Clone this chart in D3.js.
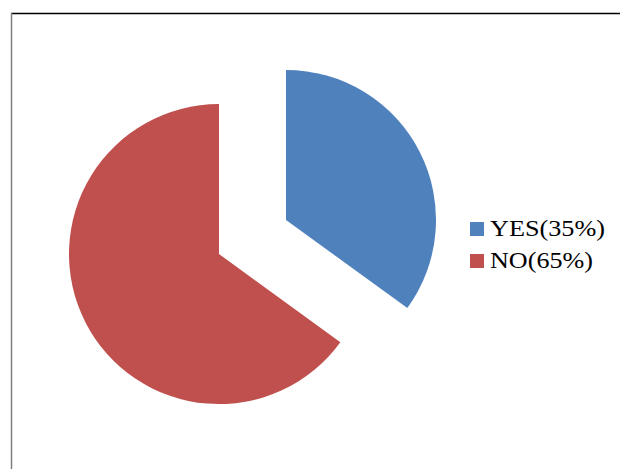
<!DOCTYPE html>
<html>
<head>
<meta charset="utf-8">
<script src="https://cdn.jsdelivr.net/npm/d3@7"></script>
<style>
  html, body { margin: 0; padding: 0; background: #fff; }
  svg { display: block; }
</style>
</head>
<body>
<svg id="chart" width="620" height="469"></svg>
<script>
// Survey answers and their shares
const categories = ["YES", "NO"];
const values = [35, 65];
const colors = ["#4F81BD", "#C0504D"];
const legendLabels = ["YES(35%)", "NO(65%)"];

const svg = d3.select("#chart");
const W = 620, H = 469;

// Chart frame (top and left edges visible)
svg.append("line").attr("x1", 11).attr("y1", 13.5).attr("x2", W).attr("y2", 13.5)
  .attr("stroke", "#000").attr("stroke-width", 1.5);
svg.append("line").attr("x1", 11.5).attr("y1", 13).attr("x2", 11.5).attr("y2", H)
  .attr("stroke", "#7f7f7f").attr("stroke-width", 1.5);

const cx = 252.5, cy = 237, radius = 150, explode = 37.6;

const pie = d3.pie().sort(null).value(d => d.value);
const arc = d3.arc().innerRadius(0).outerRadius(radius);
const data = pie(categories.map((c, i) => ({ cat: c, value: values[i], color: colors[i] })));

const g = svg.append("g").attr("transform", `translate(${cx},${cy})`);
g.selectAll("path")
  .data(data)
  .join("path")
  .attr("d", arc)
  .attr("fill", d => d.data.color)
  .attr("transform", d => {
    const mid = (d.startAngle + d.endAngle) / 2;
    return `translate(${Math.sin(mid) * explode},${-Math.cos(mid) * explode})`;
  });

// Legend
const legend = svg.append("g");
const legendX = 470, legendY = 222, rowGap = 32;
const legendWidths = [115, 103];
categories.forEach((c, i) => {
  const y = legendY + i * rowGap;
  legend.append("rect").attr("x", legendX).attr("y", y)
    .attr("width", 14).attr("height", 14).attr("fill", colors[i]);
  legend.append("text").attr("x", 490).attr("y", y + 13.5)
    .attr("font-family", "'Liberation Serif', 'Times New Roman', serif")
    .attr("font-size", 23.5)
    .attr("fill", "#000")
    .attr("textLength", legendWidths[i])
    .attr("lengthAdjust", "spacingAndGlyphs")
    .text(legendLabels[i]);
});
</script>
</body>
</html>
